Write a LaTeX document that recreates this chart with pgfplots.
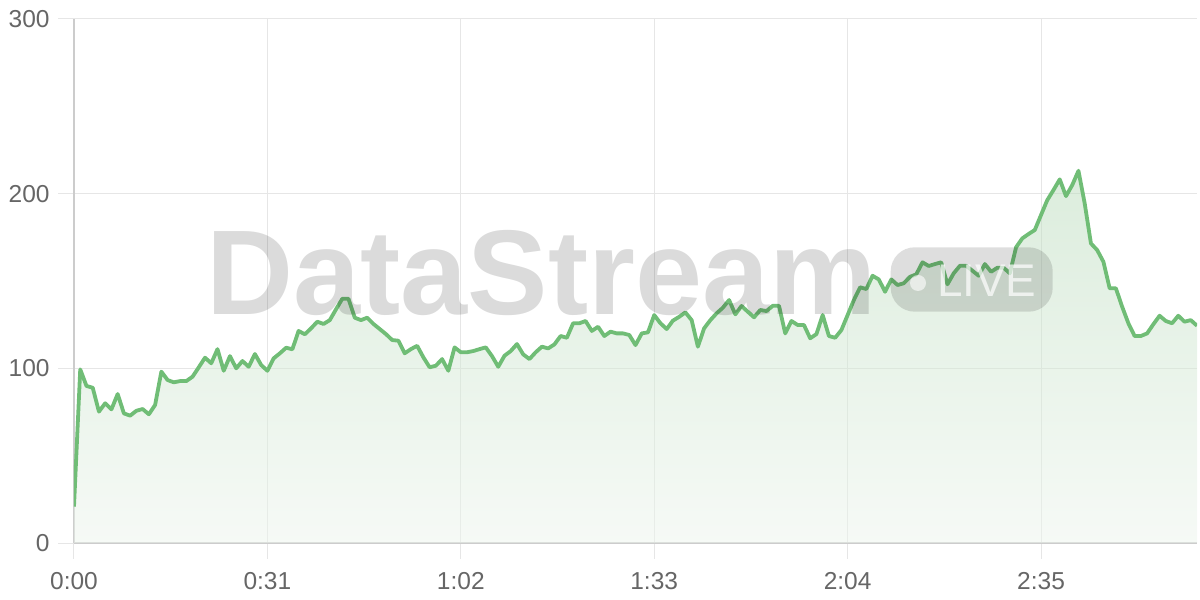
\documentclass[border=0pt]{standalone}
\usepackage{pgfplots}
\pgfplotsset{compat=1.18}
\usepackage{pgfplotstable}
\usepackage{fontspec}
\setmainfont{Liberation Sans}
\definecolor{linegreen}{RGB}{112,189,118}
\definecolor{filltop}{RGB}{185,219,187}
\definecolor{fillbot}{RGB}{237,245,237}
\definecolor{gridgray}{RGB}{230,230,230}
\definecolor{axisgray}{RGB}{204,204,204}
\definecolor{labelgray}{RGB}{102,102,102}
\pgfplotstableread{
t v
0 20.8
1 99.4
2 89.9
3 88.9
4 75.2
5 80
6 76.5
7 85.3
8 74.2
9 72.9
10 75.7
11 76.7
12 73.7
13 79
14 98.1
15 93.3
16 92
17 92.7
18 92.7
19 95.2
20 100.6
21 106.1
22 102.9
23 111
24 98.6
25 107
26 100
27 104.2
28 100.9
29 108.2
30 101.9
31 98.6
32 105.7
33 108.6
34 111.8
35 110.9
36 121.4
37 119.5
38 122.9
39 126.7
40 125.4
41 127.6
42 133.8
43 139.8
44 139.8
45 129
46 127.6
47 129
48 125.4
49 122.5
50 119.6
51 116.2
52 115.8
53 108.6
54 111
55 112.9
56 106.3
57 100.6
58 101.5
59 105.3
60 98.6
61 112
62 109.2
63 109.2
64 109.9
65 111
66 112
67 107
68 100.9
69 107.2
70 109.9
71 113.9
72 108
73 105.3
74 109.2
75 112.4
76 111.4
77 113.7
78 118.5
79 117.5
80 125.8
81 125.8
82 127.1
83 121.4
84 123.8
85 118.5
86 121
87 120
88 120
89 119.1
90 113.3
91 120
92 120.6
93 130.5
94 125.8
95 122.5
96 127.3
97 129.5
98 132
99 127.6
100 112.4
101 122.9
102 127.6
103 131.5
104 134.7
105 139.1
106 130.9
107 135.7
108 132.4
109 129.2
110 133.4
111 132.8
112 135.8
113 135.8
114 120
115 127.1
116 124.8
117 124.8
118 117.2
119 119.6
120 130.5
121 118.5
122 117.5
123 121.9
124 130.5
125 139.1
126 146.4
127 145.4
128 153
129 150.9
130 143.8
131 150.9
132 147.7
133 148.7
134 152.4
135 153.8
136 160.7
137 158.6
138 159.7
139 160.7
140 148.1
141 154.4
142 158.7
143 158.7
144 155.9
145 153
146 159.7
147 155.3
148 157.6
149 157.6
150 154.4
151 169.3
152 174.4
153 176.9
154 179.2
155 187.8
156 196.3
157 202.1
158 208.2
159 198.6
160 204.9
161 213.1
162 194.4
163 171.5
164 167.7
165 161
166 145.8
167 145.8
168 135.3
169 125.8
170 118.5
171 118.5
172 120
173 125.2
174 130.1
175 127.1
176 125.8
177 130.1
178 126.7
179 127.6
180 124.4
}\datatable

\begin{document}
\begin{tikzpicture}
\useasboundingbox (-37bp,-28.5bp) rectangle (563bp,271.5bp);
\begin{axis}[
  at={(0,0)}, anchor=south west,
  scale only axis, width=561.5bp, height=262bp,
  xmin=0, xmax=180, ymin=0, ymax=300,
  xtick={0,31,62,93,124,155},
  xticklabels={0:00,0:31,1:02,1:33,2:04,2:35},
  ytick={0,100,200,300},
  grid=major,
  major grid style={draw=gridgray, line width=0.5bp},
  axis x line*=bottom, axis y line*=left,
  axis line style={draw=axisgray, line width=1bp, -},
  tick align=outside, major tick length=8bp,
  tick style={draw=gridgray, line width=0.5bp},
  ticklabel style={font=\fontsize{12.3}{14}\selectfont, text=labelgray},
  yticklabel style={anchor=east, inner sep=0pt, xshift=-4bp},
  xticklabel style={anchor=north, inner sep=0pt, yshift=-6.6bp},
  /pgf/number format/assume math mode=true,
]
\addplot[draw=none, fill opacity=0.5, top color=filltop, bottom color=fillbot] table[x=t, y=v] {\datatable} \closedcycle;
\addplot[color=linegreen, line width=1.9bp, line join=round, mark=none] table[x=t, y=v] {\datatable};
\end{axis}
\node[anchor=base west, inner sep=0pt, text=black, opacity=0.14, font=\fontsize{60.5}{60}\selectfont\bfseries] at (66bp,114bp) {DataStream};
\fill[black, opacity=0.13, rounded corners=12bp] (408.35bp,115.65bp) rectangle (489.35bp,147.85bp);
\fill[white, opacity=0.6] (422bp,130bp) circle (4bp);
\node[anchor=base west, inner sep=0pt, text=white, opacity=0.7, font=\fontsize{23}{23}\selectfont] at (431.3bp,123bp) {LIVE};
\end{tikzpicture}
\end{document}
